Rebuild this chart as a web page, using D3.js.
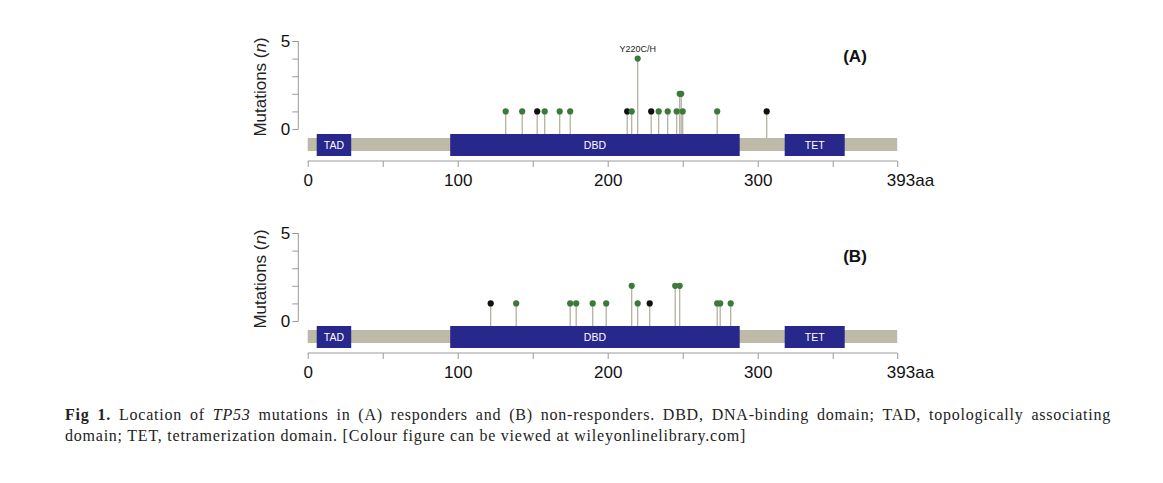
<!DOCTYPE html>
<html><head><meta charset="utf-8">
<script src="https://cdn.jsdelivr.net/npm/d3@7"></script>
<style>body{margin:0;background:#fff}svg{display:block}</style>
</head><body>
<svg id="c" width="1163" height="483"></svg>
<script>
// ---- data ----
const proteinLength = 393;
const domainNames = ["TAD", "DBD", "TET"];
const domainStart = [6, 95, 318];
const domainEnd = [29, 288, 358];
const xTicks = [0, 50, 100, 150, 200, 250, 300, 350, 393];
const xTickLabels = ["0", "", "100", "", "200", "", "300", "", "393aa"];
const yTicks = [0, 1, 2, 3, 4, 5];
const yTickLabels = ["0", "", "", "", "", "5"];

const posA =   [132,143,153,158,168,175,213,216,220,229,234,240,246,248,249,250,273,306];
const countA = [1,  1,  1,  1,  1,  1,  1,  1,  4,  1,  1,  1,  1,  2,  2,  1,  1,  1];
const typeA =  ["g","g","k","g","g","g","k","g","g","k","g","g","g","g","g","g","g","k"];
const posB =   [122,139,175,179,190,199,216,220,228,245,248,273,275,282];
const countB = [1,  1,  1,  1,  1,  1,  2,  1,  1,  2,  2,  1,  1,  1];
const typeB =  ["k","g","g","g","g","g","g","g","k","g","g","g","g","g"];
const annotA = [{pos: 220, count: 4, text: "Y220C/H"}];

const svg = d3.select("#c");
const x = d3.scaleLinear().domain([0, proteinLength]).range([307.7, 897.2]);
const colors = {g: "#3b7a3b", k: "#111111"};

function panel(zero, pos, count, type, label, labelY, annots) {
  const y = d3.scaleLinear().domain([0, 5]).range([zero, zero - 88]);
  const g = svg.append("g");
  const ya = g.append("g").attr("transform", "translate(298.3,0)")
    .call(d3.axisLeft(y).tickValues(yTicks).tickSize(6).tickFormat((d, i) => yTickLabels[i]));
  ya.select(".domain").attr("stroke", "#9a9a9a").attr("d", `M-0,${y(0)}V${y(5)}`);
  ya.selectAll(".tick line").attr("stroke", "#9a9a9a");
  ya.selectAll(".tick text").attr("font-family", "Liberation Sans, Arial, sans-serif")
    .attr("font-size", 17).attr("fill", "#111").attr("x", -8);
  g.append("text").attr("transform", `translate(266,${(y(0) + y(5)) / 2 + 2}) rotate(-90)`)
    .attr("text-anchor", "middle").attr("font-family", "Liberation Sans, Arial, sans-serif")
    .attr("font-size", 17).attr("fill", "#222")
    .html('Mutations (<tspan font-style="italic">n</tspan>)');
  const idx = d3.range(pos.length);
  g.selectAll(".stem").data(idx).join("line")
    .attr("x1", i => x(pos[i])).attr("x2", i => x(pos[i]))
    .attr("y1", zero + 12).attr("y2", i => y(count[i]))
    .attr("stroke", "#b4b2a0").attr("stroke-width", 1.3);
  g.append("rect").attr("x", x(0)).attr("width", x(proteinLength) - x(0))
    .attr("y", zero + 9).attr("height", 13).attr("fill", "#bdbba8");
  const di = d3.range(domainNames.length);
  g.selectAll(".dom").data(di).join("rect")
    .attr("x", i => x(domainStart[i])).attr("width", i => x(domainEnd[i]) - x(domainStart[i]))
    .attr("y", zero + 5).attr("height", 22).attr("fill", "#27278c");
  g.selectAll(".domt").data(di).join("text")
    .attr("x", i => (x(domainStart[i]) + x(domainEnd[i])) / 2).attr("y", zero + 19.5)
    .attr("text-anchor", "middle").attr("font-family", "Liberation Sans, Arial, sans-serif")
    .attr("font-size", 10.5).attr("fill", "#fff").text(i => domainNames[i]);
  g.selectAll(".dot").data(idx).join("circle")
    .attr("cx", i => x(pos[i])).attr("cy", i => y(count[i])).attr("r", 3.1)
    .attr("fill", i => colors[type[i]]);
  annots.forEach(a => {
    g.append("text").attr("x", x(a.pos)).attr("y", y(a.count) - 7)
      .attr("text-anchor", "middle").attr("font-family", "Liberation Sans, Arial, sans-serif")
      .attr("font-size", 9).attr("fill", "#222").text(a.text);
  });
  const xa = g.append("g").attr("transform", `translate(0,${zero + 32})`)
    .call(d3.axisBottom(x).tickValues(xTicks).tickSize(6).tickFormat((d, i) => xTickLabels[i]));
  xa.select(".domain").attr("stroke", "#9a9a9a").attr("d", `M${x(0)},0H${x(proteinLength)}`);
  xa.selectAll(".tick line").attr("stroke", "#9a9a9a");
  xa.selectAll(".tick text").attr("font-family", "Liberation Sans, Arial, sans-serif")
    .attr("font-size", 17).attr("fill", "#111").attr("y", 13);
  xa.selectAll(".tick").filter(d => d === 393).select("text").attr("dx", "0.75em");
  g.append("text").attr("x", 855).attr("y", labelY).attr("text-anchor", "middle")
    .attr("dominant-baseline", "central").attr("font-family", "Liberation Sans, Arial, sans-serif")
    .attr("font-weight", "bold").attr("font-size", 17).attr("fill", "#111").text(label);
}

panel(129, posA, countA, typeA, "(A)", 56, annotA);
panel(321, posB, countB, typeB, "(B)", 256, []);

// caption
const cap = svg.append("g").attr("font-family", "Liberation Serif, Times New Roman, serif")
  .attr("font-size", 16).attr("fill", "#222");
const l1 = cap.append("text").attr("x", 65).attr("y", 420)
  .html('<tspan font-weight="bold">Fig 1.</tspan> Location of <tspan font-style="italic">TP53</tspan> mutations in (A) responders and (B) non-responders. DBD, DNA-binding domain; TAD, topologically associating');
const l2 = cap.append("text").attr("x", 65).attr("y", 441)
  .text("domain; TET, tetramerization domain. [Colour figure can be viewed at wileyonlinelibrary.com]");
// fit widths: line 2 natural width ~681px, line 1 justified to ~1046px
const t2 = l2.node().getComputedTextLength();
const n2 = l2.text().length;
const ls = (681 - t2) / n2;
l2.attr("letter-spacing", ls);
l1.attr("letter-spacing", ls);
const t1 = l1.node().getComputedTextLength();
const words1 = l1.text().split(" ").length - 1;
l1.attr("word-spacing", Math.max(0, (1046 - t1) / words1));
</script>
</body></html>
